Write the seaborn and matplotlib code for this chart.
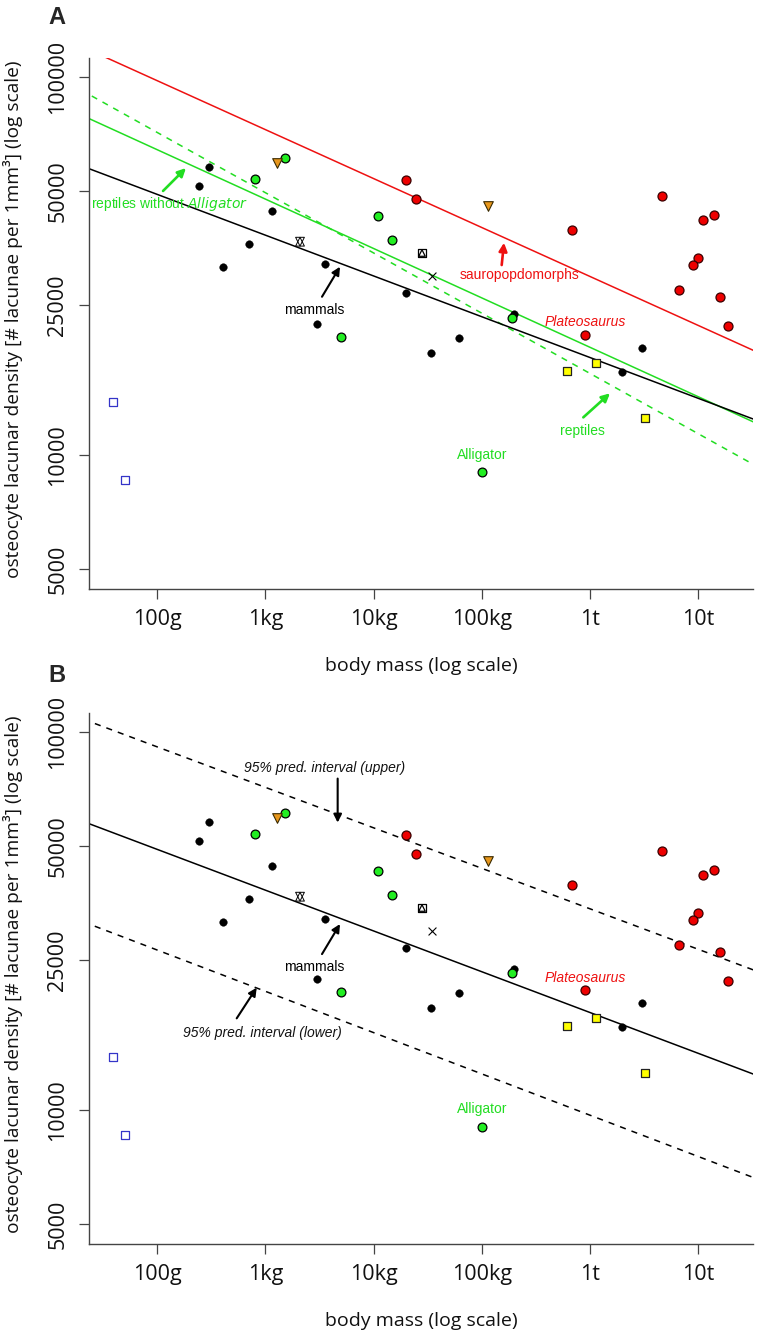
import numpy as np
import pandas as pd
import matplotlib
matplotlib.use("Agg")
import matplotlib.pyplot as plt
import seaborn as sns

sns.set_style("white")
plt.rcParams["font.family"] = ["Open Sans", "DejaVu Sans"]

# ---------------- data (body mass in g, lacunar density per mm^3) ----------------
mammal_mass = [302, 244, 1148, 699, 405, 3525, 3010, 20010, 199300, 33850, 61820, 3.0e6, 1.985e6]
mammal_dens = [58000, 51670, 44300, 36150, 31490, 32010, 22210, 26880, 23640, 18680, 20470, 19260, 16640]

reptile_mass = [805, 1505, 10890, 14760, 4985, 188600, 100200]
reptile_dens = [53830, 61150, 42970, 37050, 20520, 23030, 9050]

sauro_mass = [20010, 24600, 684600, 897500, 4.618e6, 1.098e7, 1.388e7, 9.94e6, 8.99e6, 6.59e6, 1.587e7, 1.894e7]
sauro_dens = [53400, 47550, 39380, 20770, 48440, 41850, 43220, 33200, 31810, 27370, 26230, 21980]

tri_mass = [1285, 114600]
tri_dens = [59230, 45750]

yellow_mass = [1.141e6, 607800, 3.217e6]
yellow_dens = [17510, 16680, 12550]

blue_mass = [39.2, 50.3]
blue_dens = [13810, 8590]

star_mass = [2084]
star_dens = [36740]
sqtri_mass = [27950]
sqtri_dens = [34290]
cross_mass = [34800]
cross_dens = [29760]

# regression lines: log10(density) = a + b * log10(mass)
mammal_line = (4.906, -0.1079)
sauro_line = (5.250, -0.1295)
rept_noalli_line = (5.0698, -0.1307)
rept_line = (5.1728, -0.1594)
pi_upper_line = (5.1756, -0.1071)
pi_lower_line = (4.6424, -0.10924)

xticks = [100, 1e3, 1e4, 1e5, 1e6, 1e7]
xticklabels = ["100g", "1kg", "10kg", "100kg", "1t", "10t"]
yticks = [5000, 10000, 25000, 50000, 100000]
yticklabels = ["5000", "10000", "25000", "50000", "100000"]

XLIM = (10 ** 1.3688, 10 ** 7.5028)
YLIM = (10 ** 3.6455, 10 ** 5.0511)

RED = "#ee1111"
GREEN = "#22dd22"
LIME = "#22ee22"
ORANGE = "#e8971c"
YELLOW = "#ffff00"
BLUE = "#3434c8"
ANN_FONT = ["Liberation Sans", "DejaVu Sans"]
ANN_SIZE = 10

fig = plt.figure(figsize=(7.6, 13.32), dpi=100)
axA = fig.add_axes([89 / 760, 1 - 589.3 / 1332, 663.7 / 760, 531.3 / 1332])
axB = fig.add_axes([89 / 760, 1 - 1244.3 / 1332, 663.7 / 760, 531.3 / 1332])

xgrid = np.logspace(1.0, 8.0, 60)


def draw_line(ax, params, color, ls):
    a, b = params
    d = pd.DataFrame({"m": xgrid, "v": 10 ** (a + b * np.log10(xgrid))})
    sns.lineplot(data=d, x="m", y="v", ax=ax, color=color, lw=1.1, linestyle=ls,
                 zorder=2, legend=False, estimator=None, sort=False)


def draw_points(ax):
    kw = dict(ax=ax, legend=False, zorder=4)
    sns.scatterplot(x=mammal_mass, y=mammal_dens, marker="o", s=30, color="black",
                    edgecolor="black", linewidth=0.3, **kw)
    sns.scatterplot(x=reptile_mass, y=reptile_dens, marker="o", s=40, color=LIME,
                    edgecolor="black", linewidth=0.9, **kw)
    sns.scatterplot(x=sauro_mass, y=sauro_dens, marker="o", s=42, color="#ee0000",
                    edgecolor="#3a0000", linewidth=0.9, **kw)
    sns.scatterplot(x=tri_mass, y=tri_dens, marker="v", s=48, color=ORANGE,
                    edgecolor="#3a2a00", linewidth=0.8, **kw)
    sns.scatterplot(x=yellow_mass, y=yellow_dens, marker="s", s=30, color=YELLOW,
                    edgecolor="#222222", linewidth=0.9, **kw)
    sns.scatterplot(x=blue_mass, y=blue_dens, marker="s", s=36, color="none",
                    edgecolor=BLUE, linewidth=0.9, **kw)
    sns.scatterplot(x=star_mass, y=star_dens, marker="^", s=40, color="none",
                    edgecolor="black", linewidth=0.7, **kw)
    sns.scatterplot(x=star_mass, y=star_dens, marker="v", s=40, color="none",
                    edgecolor="black", linewidth=0.7, **kw)
    sns.scatterplot(x=sqtri_mass, y=sqtri_dens, marker="s", s=40, color="none",
                    edgecolor="black", linewidth=0.9, **kw)
    sns.scatterplot(x=sqtri_mass, y=sqtri_dens, marker="^", s=22, color="none",
                    edgecolor="black", linewidth=0.9, **kw)
    sns.scatterplot(x=cross_mass, y=cross_dens, marker="x", s=32, color="black",
                    linewidth=0.8, **kw)


def style_axes(ax):
    ax.set_xscale("log")
    ax.set_yscale("log")
    ax.set_xlim(*XLIM)
    ax.set_ylim(*YLIM)
    ax.set_xticks(xticks)
    ax.set_xticklabels(xticklabels)
    ax.set_yticks(yticks)
    ax.set_yticklabels(yticklabels, rotation=90, va="center")
    ax.minorticks_off()
    for s in ["top", "right"]:
        ax.spines[s].set_visible(False)
    for s in ["left", "bottom"]:
        ax.spines[s].set_color("#444444")
        ax.spines[s].set_linewidth(1.0)
    ax.tick_params(axis="both", which="major", direction="out", length=7, width=0.9,
                   color="#444444", labelsize=15.5, labelcolor="#111111", pad=7,
                   left=True, bottom=True)
    ax.tick_params(axis="y", pad=8)
    ax.set_xlabel("body mass (log scale)", fontsize=14, color="#111111")
    ax.xaxis.set_label_coords(0.5, -0.128)
    ax.set_ylabel("osteocyte lacunar density [# lacunae per 1mm³] (log scale)",
                  fontsize=13.8, color="#111111")
    ax.yaxis.set_label_coords(-0.099, 0.508)
    ax.patch.set_alpha(0)


def arrow(ax, tail, head, color, lw=1.5):
    ax.annotate("", xy=head, xytext=tail,
                arrowprops=dict(arrowstyle="-|>", color=color, lw=lw,
                                mutation_scale=12, shrinkA=0, shrinkB=0),
                zorder=5)


# ---------------- panel A ----------------
draw_line(axA, sauro_line, RED, "-")
draw_line(axA, rept_line, GREEN, (0, (4, 4)))
draw_line(axA, rept_noalli_line, GREEN, "-")
draw_line(axA, mammal_line, "black", "-")
draw_points(axA)
style_axes(axA)

axA.text(130, 46220, "reptiles without $\\it{Alligator}$", color=GREEN, fontsize=ANN_SIZE,
         ha="center", va="center", family=ANN_FONT)
arrow(axA, (113, 50040), (184, 57540), GREEN, 1.9)
axA.text(2806, 24230, "mammals", color="black", fontsize=ANN_SIZE, ha="center", va="center",
         family=ANN_FONT)
arrow(axA, (3328, 26270), (4882, 31540), "black")
axA.text(221700, 29940, "sauropopdomorphs", color=RED, fontsize=ANN_SIZE, ha="center",
         va="center", family=ANN_FONT)
arrow(axA, (152400, 31870), (160100, 36510), RED, 1.9)
axA.text(897500, 22480, "Plateosaurus", color=RED, fontsize=ANN_SIZE, style="italic",
         ha="center", va="center", family=ANN_FONT)
axA.text(841800, 11620, "reptiles", color=GREEN, fontsize=ANN_SIZE, ha="center", va="center",
         family=ANN_FONT)
arrow(axA, (865500, 12600), (1.527e6, 14590), GREEN, 1.9)
axA.text(100900, 10020, "Alligator", color=GREEN, fontsize=ANN_SIZE, ha="center", va="center",
         family=ANN_FONT)

# ---------------- panel B ----------------
draw_line(axB, pi_upper_line, "black", (0, (4, 4)))
draw_line(axB, pi_lower_line, "black", (0, (4, 4)))
draw_line(axB, mammal_line, "black", "-")
draw_points(axB)
style_axes(axB)

axB.text(3548, 80320, "95% pred. interval (upper)", color="#111111", fontsize=ANN_SIZE,
         style="italic", ha="center", va="center", family=ANN_FONT)
arrow(axB, (4645, 75440), (4645, 57690), "black")
axB.text(2806, 23890, "mammals", color="black", fontsize=ANN_SIZE, ha="center", va="center",
         family=ANN_FONT)
arrow(axB, (3328, 25900), (4882, 31100), "black")
axB.text(928.5, 15990, "95% pred. interval (lower)", color="#111111", fontsize=ANN_SIZE,
         style="italic", ha="center", va="center", family=ANN_FONT)
arrow(axB, (541.8, 17510), (829, 21110), "black")
axB.text(897500, 22350, "Plateosaurus", color=RED, fontsize=ANN_SIZE, style="italic",
         ha="center", va="center", family=ANN_FONT)
axB.text(100900, 10100, "Alligator", color=GREEN, fontsize=ANN_SIZE, ha="center", va="center",
         family=ANN_FONT)

# panel letters
fig.text(57 / 760, 1 - 17 / 1332, "A", fontsize=17, fontweight="bold", ha="center",
         va="center", family=ANN_FONT)
fig.text(57 / 760, 1 - 675 / 1332, "B", fontsize=17, fontweight="bold", ha="center",
         va="center", family=ANN_FONT)

fig.savefig("out.png", dpi=100, facecolor="white")
